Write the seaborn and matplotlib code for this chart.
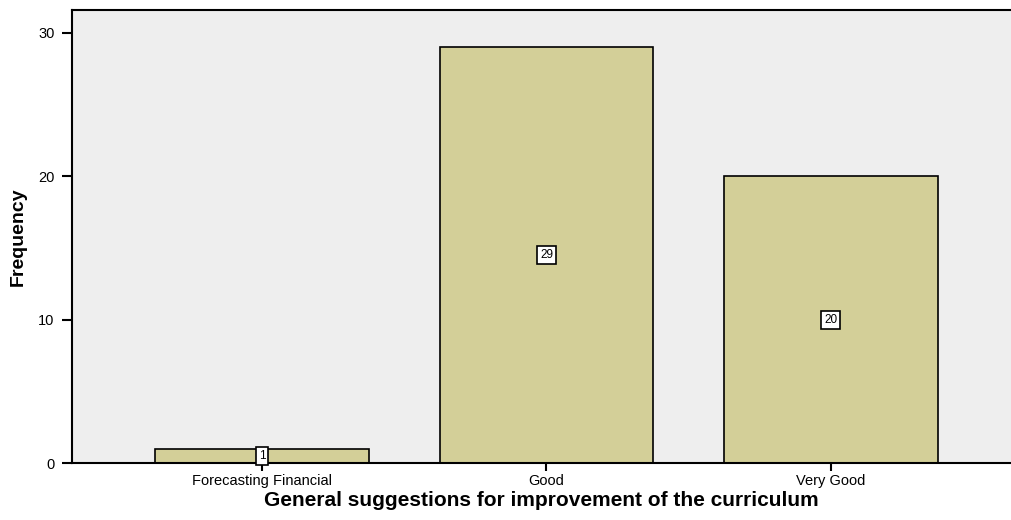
import matplotlib
matplotlib.use("Agg")
import matplotlib.pyplot as plt
import seaborn as sns
import pandas as pd

# data
categories = ["Forecasting Financial", "Good", "Very Good"]
frequencies = [1, 29, 20]

df = pd.DataFrame({"category": categories, "frequency": frequencies})

sns.set_style("ticks")
plt.rcParams['font.family'] = ['Liberation Sans', 'DejaVu Sans']
plt.rcParams['text.color'] = 'black'
plt.rcParams['axes.labelcolor'] = 'black'
plt.rcParams['xtick.color'] = 'black'
plt.rcParams['ytick.color'] = 'black'

fig = plt.figure(figsize=(10.11, 5.2), dpi=100)
ax = fig.add_axes([0.0712, 0.1096, 0.9288, 0.8712])
ax.set_facecolor("#eeeeee")

sns.barplot(data=df, x="category", y="frequency", color="#d3cf98",
            saturation=1, width=0.75, edgecolor="black", linewidth=1.2, ax=ax)

# value labels in white boxes at bar middle
for i, v in enumerate(frequencies):
    ax.text(i, v / 2, str(v), ha="center", va="center", fontsize=8.5,
            bbox=dict(boxstyle="square,pad=0.25", facecolor="white",
                      edgecolor="black", linewidth=1.2))

ax.set_xlim(-0.668, 2.633)
ax.set_ylim(0, 31.6)
ax.set_yticks([0, 10, 20, 30])
ax.tick_params(axis="both", labelsize=10.5, width=1.5,
               color="black", labelcolor="black")
ax.tick_params(axis="y", length=7.5, pad=5)
ax.tick_params(axis="x", length=6, pad=2)
ax.set_xlabel("General suggestions for improvement of the curriculum",
              fontsize=15, fontweight="bold", labelpad=2)
ax.set_ylabel("Frequency", fontsize=14, fontweight="bold", labelpad=8)

for side in ["left", "bottom", "top"]:
    ax.spines[side].set_linewidth(1.5)
    ax.spines[side].set_color("black")
ax.spines["right"].set_visible(False)

fig.savefig("out.png", dpi=100)
